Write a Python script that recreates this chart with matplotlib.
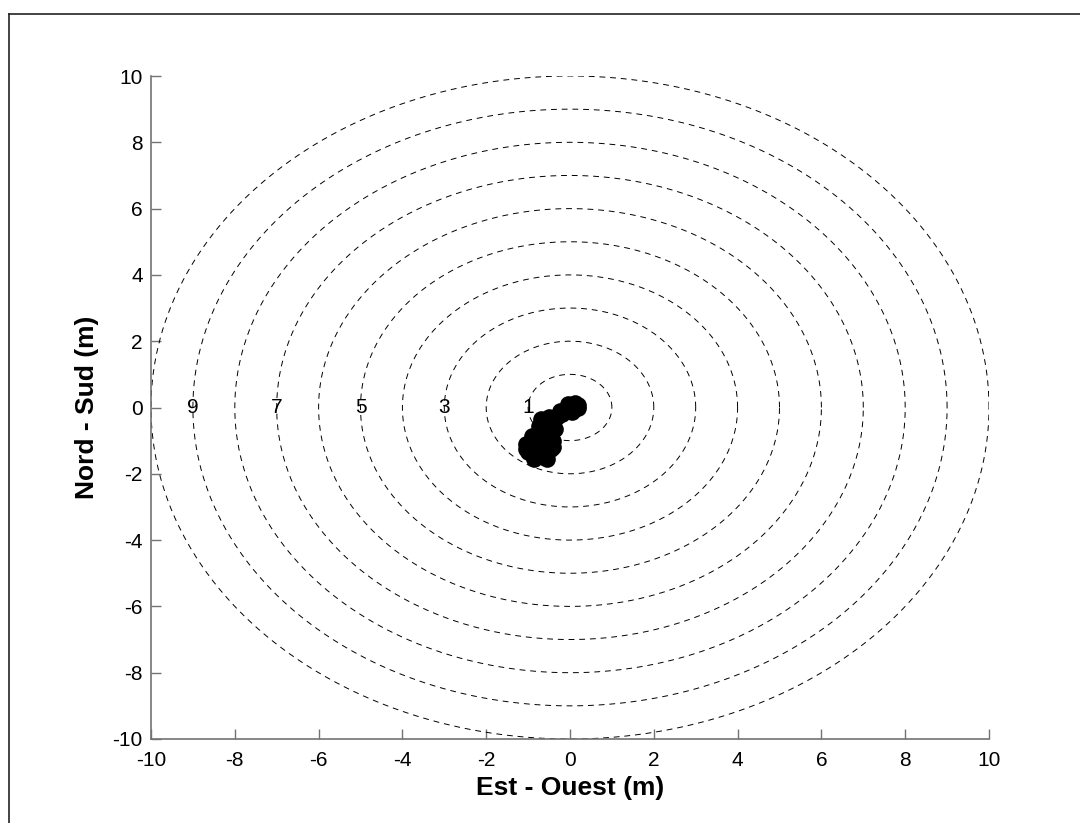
import numpy as np
import matplotlib.pyplot as plt
from matplotlib.lines import Line2D

plt.rcParams['font.family'] = ['Liberation Sans', 'DejaVu Sans']
plt.rcParams['axes.unicode_minus'] = False

# ==============================
# Data
# ==============================
radii = [1, 2, 3, 4, 5, 6, 7, 8, 9, 10]
ring_labels = [1, 3, 5, 7, 9]

# positions (m)
pos_x = [0.10, 0.00, -0.10, 0.18, -0.05, 0.20, 0.05, 0.12,
         -0.20, -0.30, -0.40, -0.25,
         -0.50, -0.60, -0.45, -0.70, -0.50, -0.80, -0.60, -0.90,
         -0.70, -1.00, -0.80, -0.60, -1.05, -0.40, -0.35, -0.55,
         -0.75, -0.95, -0.65, -0.85, -0.45, -0.40, -1.05, -0.90,
         -0.55, -0.70, -0.50]
pos_y = [0.05, 0.00, -0.10, 0.00, 0.10, 0.08, -0.15, 0.15,
         -0.20, -0.30, -0.40, -0.10,
         -0.50, -0.60, -0.70, -0.80, -0.90, -1.00, -1.10, -1.20,
         -1.30, -1.35, -1.45, -1.40, -1.25, -1.00, -0.65, -0.45,
         -0.55, -1.05, -1.50, -1.55, -1.25, -1.20, -1.10, -0.85,
         -1.55, -0.35, -0.30]

ticks = [-10, -8, -6, -4, -2, 0, 2, 4, 6, 8, 10]

# ==============================
# Figure
# ==============================
fig = plt.figure(figsize=(10.8, 8.23), dpi=100)
ax = fig.add_axes([151 / 1080, 1 - 739 / 823, (989 - 151) / 1080, (739 - 76) / 823])

theta = np.linspace(0, 2 * np.pi, 721)
for r in radii:
    ax.plot(r * np.cos(theta), r * np.sin(theta), color='black',
            linestyle=(0, (6, 5)), linewidth=0.7)

for r in ring_labels:
    ax.text(-r, 0, str(r), ha='center', va='center', fontsize=15)

ax.plot(pos_x, pos_y, linestyle='none', marker='o', markersize=12,
        color='black', markeredgewidth=0)

ax.set_xlim(-10, 10)
ax.set_ylim(-10, 10)
ax.set_xticks(ticks)
ax.set_yticks(ticks)
ax.tick_params(direction='in', length=7, width=1, colors='0.45',
               labelcolor='black', labelsize=15)
ax.tick_params(axis='x', pad=9)
ax.tick_params(axis='y', pad=6)
for s in ['top', 'right']:
    ax.spines[s].set_visible(False)
for s in ['left', 'bottom']:
    ax.spines[s].set_color('0.45')
    ax.spines[s].set_linewidth(1.2)

ax.set_xlabel('Est - Ouest (m)', fontsize=19, fontweight='bold', labelpad=4)
ax.set_ylabel('Nord - Sud (m)', fontsize=19, fontweight='bold', labelpad=10)

# outer frame (cropped at right and bottom)
x0 = 9 / 1080
y0 = 1 - 14 / 823
fig.add_artist(Line2D([x0, x0], [0, y0], transform=fig.transFigure, color='#222222', linewidth=1.2))
fig.add_artist(Line2D([x0, 1], [y0, y0], transform=fig.transFigure, color='#222222', linewidth=1.2))

fig.savefig('out.png', dpi=100)
